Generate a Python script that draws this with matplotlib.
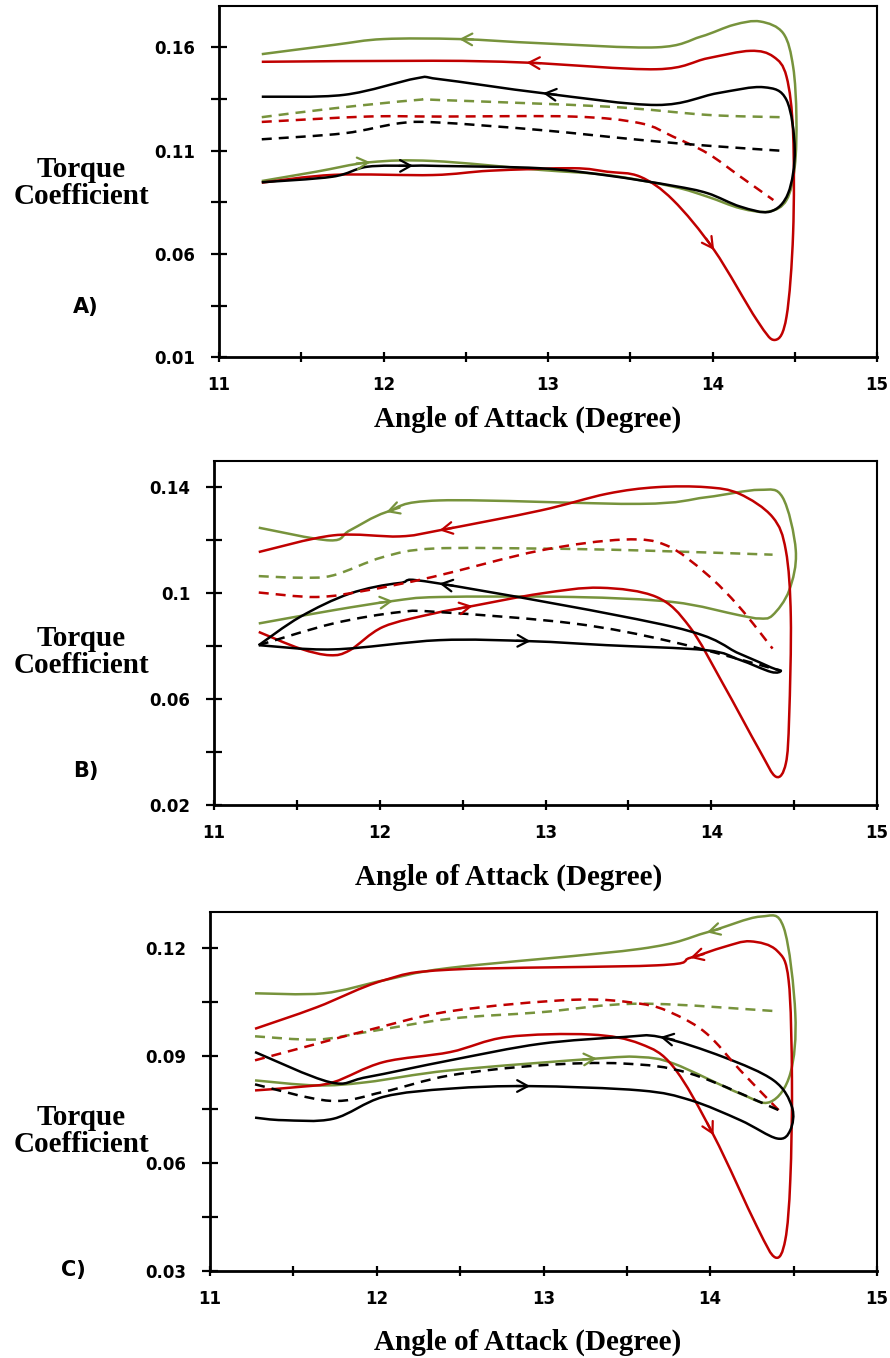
import numpy as np
import matplotlib.pyplot as plt
from matplotlib.path import Path
from matplotlib.patches import PathPatch
from matplotlib.ticker import FixedLocator, FuncFormatter

RED = "#C00000"
GREEN = "#77933C"
BLACK = "#000000"

# ---------------- Panel A ----------------
A_green_x = [11.26, 11.59, 11.92, 12.3, 12.95, 13.36, 13.76, 13.97, 14.17, 14.34, 14.45, 14.50,
             14.51, 14.49, 14.43, 14.29, 14.13, 13.93, 13.66, 12.95, 12.46, 12.0, 11.7, 11.26]
A_green_y = [0.0953, 0.0998, 0.1044, 0.1050, 0.1007, 0.0982, 0.0926, 0.0877, 0.0821, 0.0805, 0.0861, 0.1023,
             0.1265, 0.1507, 0.1668, 0.1725, 0.1709, 0.1652, 0.1600, 0.1620, 0.1640, 0.1640, 0.1612, 0.1567]
A_red_x = [11.26, 11.7, 12.3, 12.65, 13.15, 13.36, 13.56, 13.76, 14.01, 14.27, 14.38, 14.45, 14.49,
           14.49, 14.45, 14.37, 14.23, 13.97, 13.66, 12.87, 12.3, 11.26]
A_red_y = [0.0945, 0.0983, 0.0982, 0.1003, 0.1015, 0.0998, 0.0974, 0.0861, 0.0619, 0.0280, 0.0184, 0.0297, 0.0700,
           0.1185, 0.1458, 0.1555, 0.1583, 0.1547, 0.1494, 0.1526, 0.1535, 0.1530]
A_black_x = [11.26, 11.69, 11.9, 12.18, 12.34, 12.95, 13.36, 13.76, 13.97, 14.17, 14.35, 14.46, 14.50,
             14.45, 14.31, 14.03, 13.66, 12.97, 12.34, 12.2, 11.76, 11.26]
A_black_y = [0.0947, 0.0974, 0.1022, 0.1027, 0.1026, 0.1015, 0.0980, 0.0930, 0.0894, 0.0829, 0.0805, 0.0894, 0.1103,
             0.1345, 0.1407, 0.1378, 0.1321, 0.1378, 0.1446, 0.1450, 0.1370, 0.1361]
A_gdash_x = [11.26, 11.7, 12.2, 12.34, 13.36, 13.97, 14.41]
A_gdash_y = [0.1262, 0.1305, 0.1345, 0.1345, 0.1313, 0.1273, 0.1262]
A_rdash_x = [11.26, 11.9, 12.34, 13.15, 13.56, 13.76, 13.97, 14.17, 14.37]
A_rdash_y = [0.1239, 0.1265, 0.1265, 0.1265, 0.1233, 0.1168, 0.1087, 0.0974, 0.0861]
A_kdash_x = [11.26, 11.76, 12.1, 12.34, 12.95, 13.56, 13.97, 14.41]
A_kdash_y = [0.1155, 0.1184, 0.1233, 0.1236, 0.1200, 0.1152, 0.1124, 0.1100]
A_arrow_x = [11.92, 12.46, 12.87, 14.01, 12.18, 12.97]
A_arrow_y = [0.1044, 0.1640, 0.1526, 0.0619, 0.1027, 0.1378]
A_arrow_on = ["green", "green", "red", "red", "black", "black"]

# ---------------- Panel B ----------------
B_green_x = [11.27, 11.72, 12.08, 12.36, 13.17, 13.77, 14.17, 14.29, 14.37, 14.47, 14.51, 14.43, 14.29,
             13.97, 13.57, 12.36, 12.04, 11.82, 11.7, 11.27]
B_green_y = [0.0886, 0.0936, 0.0971, 0.0986, 0.0986, 0.0967, 0.0917, 0.0905, 0.0917, 0.1011, 0.1162, 0.1363, 0.1391,
             0.1363, 0.1338, 0.1351, 0.1307, 0.1238, 0.1200, 0.1248]
B_red_x = [11.27, 11.52, 11.7, 11.82, 12.02, 12.32, 12.56, 12.97, 13.33, 13.67, 13.87, 14.07, 14.29, 14.39,
           14.45, 14.47, 14.48, 14.45, 14.37, 14.17, 13.97, 13.67, 13.37, 12.97, 12.36, 12.12, 11.72, 11.27]
B_red_y = [0.0854, 0.0791, 0.0766, 0.0785, 0.0873, 0.0923, 0.0952, 0.0999, 0.1021, 0.0986, 0.0873, 0.0659, 0.0408, 0.0307,
           0.0357, 0.0533, 0.0911, 0.1162, 0.1288, 0.1376, 0.1401, 0.1401, 0.1376, 0.1313, 0.1238, 0.1215, 0.1219, 0.1156]
B_black_x = [11.27, 11.72, 12.36, 12.91, 13.37, 13.97, 14.17, 14.36, 14.42, 14.36, 14.17, 13.77, 12.36, 12.12,
             11.82, 11.52, 11.27]
B_black_y = [0.0804, 0.0788, 0.0823, 0.0819, 0.0804, 0.0785, 0.0749, 0.0703, 0.0707, 0.0720, 0.0772, 0.0873, 0.1037,
             0.1039, 0.0999, 0.0911, 0.0804]
B_gdash_x = [11.27, 11.52, 11.72, 12.02, 12.32, 12.97, 13.57, 14.37]
B_gdash_y = [0.1065, 0.1059, 0.1068, 0.1137, 0.1169, 0.1169, 0.1162, 0.1146]
B_rdash_x = [11.27, 11.62, 11.92, 12.32, 12.97, 13.47, 13.73, 13.97, 14.17, 14.37]
B_rdash_y = [0.1003, 0.0986, 0.1011, 0.1062, 0.1162, 0.1203, 0.1181, 0.1074, 0.0948, 0.0791]
B_kdash_x = [11.27, 11.72, 12.12, 12.36, 13.17, 13.77, 14.41]
B_kdash_y = [0.0804, 0.0886, 0.0929, 0.0929, 0.0886, 0.0816, 0.0709]
B_arrow_x = [12.08, 12.04, 12.56, 12.36, 12.91, 12.36]
B_arrow_y = [0.0971, 0.1307, 0.0952, 0.1238, 0.0819, 0.1037]
B_arrow_on = ["green", "green", "red", "red", "black", "black"]

# ---------------- Panel C ----------------
C_green_x = [11.27, 11.64, 11.94, 12.44, 13.32, 13.58, 13.78, 14.18, 14.36, 14.48, 14.51, 14.44, 14.30,
             13.98, 13.58, 12.44, 12.04, 11.68, 11.27]
C_green_y = [0.0831, 0.0817, 0.0826, 0.0859, 0.0892, 0.0896, 0.0878, 0.0794, 0.0771, 0.0850, 0.1017, 0.1258, 0.1288,
             0.1244, 0.1198, 0.1145, 0.1110, 0.1074, 0.1074]
C_red_x = [11.27, 11.54, 11.74, 12.04, 12.44, 12.78, 13.28, 13.58, 13.78, 14.02, 14.28, 14.39, 14.45, 14.48,
           14.49, 14.47, 14.40, 14.24, 14.08, 13.88, 13.68, 12.44, 12.04, 11.64, 11.27]
C_red_y = [0.0803, 0.0813, 0.0826, 0.0882, 0.0910, 0.0952, 0.0959, 0.0933, 0.0868, 0.0678, 0.0423, 0.0337, 0.0386, 0.0553,
           0.0831, 0.1110, 0.1193, 0.1219, 0.1203, 0.1173, 0.1152, 0.1140, 0.1110, 0.1035, 0.0975]
C_black_x = [11.27, 11.44, 11.74, 12.04, 12.44, 12.92, 13.58, 13.88, 14.18, 14.40, 14.48, 14.49, 14.38, 14.08,
             13.70, 13.48, 12.98, 12.44, 11.94, 11.72, 11.27]
C_black_y = [0.0727, 0.0720, 0.0724, 0.0785, 0.0808, 0.0815, 0.0803, 0.0776, 0.0720, 0.0669, 0.0692, 0.0757, 0.0831, 0.0896,
             0.0952, 0.0952, 0.0933, 0.0887, 0.0840, 0.0826, 0.0910]
C_gdash_x = [11.27, 11.64, 11.94, 12.44, 12.98, 13.58, 14.40]
C_gdash_y = [0.0954, 0.0945, 0.0966, 0.1003, 0.1021, 0.1045, 0.1024]
C_rdash_x = [11.27, 11.64, 11.94, 12.44, 13.18, 13.58, 13.78, 13.98, 14.18, 14.41]
C_rdash_y = [0.0887, 0.0933, 0.0970, 0.1024, 0.1056, 0.1045, 0.1017, 0.0961, 0.0859, 0.0748]
C_kdash_x = [11.27, 11.72, 12.04, 12.44, 12.98, 13.48, 13.88, 14.41]
C_kdash_y = [0.0820, 0.0774, 0.0799, 0.0845, 0.0873, 0.0878, 0.0850, 0.0748]
C_arrow_x = [13.32, 13.98, 14.02, 13.88, 12.92, 13.70]
C_arrow_y = [0.0892, 0.1244, 0.0678, 0.1173, 0.0815, 0.0952]
C_arrow_on = ["green", "green", "red", "red", "black", "black"]

x_major = [11, 12, 13, 14, 15]
x_minor = [11.5, 12.5, 13.5, 14.5]

W, H = 890, 1358
fig = plt.figure(figsize=(W / 100, H / 100), dpi=100)


def fx(px):
    return px / W


def fy(py):
    return 1 - py / H


def smooth_path(xs, ys):
    # Catmull-Rom through the read points, drawn as cubic Bezier segments
    pts = np.column_stack([xs, ys]).astype(float)
    n = len(pts)
    verts = [pts[0]]
    codes = [Path.MOVETO]
    for i in range(n - 1):
        p0 = pts[i - 1] if i > 0 else pts[i]
        p1, p2 = pts[i], pts[i + 1]
        p3 = pts[i + 2] if i + 2 < n else pts[i + 1]
        verts += [p1 + (p2 - p0) / 6, p2 - (p3 - p1) / 6, p2]
        codes += [Path.CURVE4] * 3
    return Path(verts, codes)


def draw_panel(box, ylim, y_major, y_minor, loops, dashes, arrows):
    left, top, right, bottom = box
    ax = fig.add_axes([fx(left), fy(bottom), fx(right) - fx(left), (bottom - top) / H])
    ax.set_xlim(11, 15)
    ax.set_ylim(*ylim)

    for xs, ys, c in loops:
        ax.add_patch(PathPatch(smooth_path(xs, ys), fill=False, edgecolor=c, lw=1.8, capstyle="butt"))
    for xs, ys, c in dashes:
        ax.add_patch(PathPatch(smooth_path(xs, ys), fill=False, edgecolor=c, lw=1.8,
                               linestyle=(0, (4, 2.8)), capstyle="butt"))

    # small open arrowheads along the loops
    curves = {c: (xs, ys) for xs, ys, c in loops}
    arrow_x, arrow_y, arrow_on = arrows
    names = {"green": GREEN, "red": RED, "black": BLACK}
    for x, y, name in zip(arrow_x, arrow_y, arrow_on):
        c = names[name]
        xs, ys = curves[c]
        pts = ax.transData.transform(np.column_stack([xs, ys]))
        tip = ax.transData.transform((x, y))
        i = int(np.argmin(np.hypot(*(pts - tip).T)))
        i = min(max(i, 1), len(pts) - 2)
        d = pts[i + 1] - pts[i - 1]
        d = d / np.hypot(*d)
        tail = ax.transData.inverted().transform(pts[i] - d * 14)
        ax.annotate("", xy=(xs[i], ys[i]), xytext=tail,
                    arrowprops=dict(arrowstyle="->,head_length=0.55,head_width=0.3", color=c,
                                    lw=1.6, shrinkA=0, shrinkB=0, mutation_scale=14))

    ax.xaxis.set_major_locator(FixedLocator(x_major))
    ax.xaxis.set_minor_locator(FixedLocator(x_minor))
    ax.yaxis.set_major_locator(FixedLocator(y_major))
    ax.yaxis.set_minor_locator(FixedLocator(y_minor))
    ax.yaxis.set_major_formatter(FuncFormatter(lambda v, p: f"{v:g}"))
    ax.xaxis.set_major_formatter(FuncFormatter(lambda v, p: f"{v:g}"))
    ax.tick_params(axis="y", which="both", direction="inout", length=11, width=1.6, pad=11.5)
    ax.tick_params(axis="x", which="both", direction="inout", length=7.5, width=1.6, pad=10)
    ax.tick_params(top=False, right=False, which="both")
    for lab in ax.get_xticklabels() + ax.get_yticklabels():
        lab.set_fontfamily("DejaVu Sans")
        lab.set_fontweight("bold")
        lab.set_fontsize(12)
    for s in ["left", "bottom"]:
        ax.spines[s].set_linewidth(2)
    for s in ["top", "right"]:
        ax.spines[s].set_linewidth(1.5)
    return ax


draw_panel((219, 6, 877, 357.3), (0.01, 0.18), [0.01, 0.06, 0.11, 0.16], [0.035, 0.085, 0.135],
           [(A_green_x, A_green_y, GREEN), (A_red_x, A_red_y, RED), (A_black_x, A_black_y, BLACK)],
           [(A_gdash_x, A_gdash_y, GREEN), (A_rdash_x, A_rdash_y, RED), (A_kdash_x, A_kdash_y, BLACK)],
           (A_arrow_x, A_arrow_y, A_arrow_on))
draw_panel((214, 461, 877, 805), (0.02, 0.15), [0.02, 0.06, 0.1, 0.14], [0.04, 0.08, 0.12],
           [(B_green_x, B_green_y, GREEN), (B_red_x, B_red_y, RED), (B_black_x, B_black_y, BLACK)],
           [(B_gdash_x, B_gdash_y, GREEN), (B_rdash_x, B_rdash_y, RED), (B_kdash_x, B_kdash_y, BLACK)],
           (B_arrow_x, B_arrow_y, B_arrow_on))
draw_panel((210, 912.3, 877, 1270.7), (0.03, 0.13), [0.03, 0.06, 0.09, 0.12], [0.045, 0.075, 0.105],
           [(C_green_x, C_green_y, GREEN), (C_red_x, C_red_y, RED), (C_black_x, C_black_y, BLACK)],
           [(C_gdash_x, C_gdash_y, GREEN), (C_rdash_x, C_rdash_y, RED), (C_kdash_x, C_kdash_y, BLACK)],
           (C_arrow_x, C_arrow_y, C_arrow_on))

serif = dict(family="Liberation Serif", weight="bold", size=21)
for ylab_y, xlab_y, xlab_x, tag, tag_xy in [
    (183, 419, 528, "A)", (86, 307)),
    (652, 877, 509, "B)", (86, 771)),
    (1131, 1342, 528, "C)", (73, 1270)),
]:
    fig.text(fx(81), fy(ylab_y), "Torque\nCoefficient", ha="center", va="center",
             linespacing=1.0, **serif)
    fig.text(fx(xlab_x), fy(xlab_y), "Angle of Attack (Degree)", ha="center", va="center", **serif)
    fig.text(fx(tag_xy[0]), fy(tag_xy[1]), tag, ha="center", va="center",
             family="DejaVu Sans", weight="bold", size=15)

fig.savefig("out.png", dpi=100)
